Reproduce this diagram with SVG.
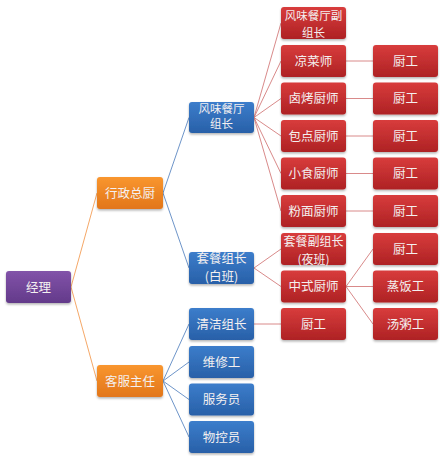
<svg xmlns="http://www.w3.org/2000/svg" width="440" height="456" viewBox="0 0 440 456">
<defs>
<linearGradient id="gO" x1="0" y1="0" x2="0" y2="1"><stop offset="0" stop-color="#F9962F"/><stop offset="1" stop-color="#E2761A"/></linearGradient>
<linearGradient id="gB" x1="0" y1="0" x2="0" y2="1"><stop offset="0" stop-color="#3C7DCB"/><stop offset="1" stop-color="#2860A8"/></linearGradient>
<linearGradient id="gR" x1="0" y1="0" x2="0" y2="1"><stop offset="0" stop-color="#D83C3C"/><stop offset="1" stop-color="#AE2224"/></linearGradient>
<linearGradient id="gP" x1="0" y1="0" x2="0" y2="1"><stop offset="0" stop-color="#8253A9"/><stop offset="1" stop-color="#633A8A"/></linearGradient>
<filter id="sh" x="-10%" y="-10%" width="120%" height="140%"><feDropShadow dx="0" dy="1.5" stdDeviation="1" flood-color="#000" flood-opacity="0.3"/></filter>
</defs>
<style>
rect{filter:url(#sh)}
.o{fill:url(#gO)}.b{fill:url(#gB)}.r{fill:url(#gR)}.p{fill:url(#gP)}
text{font-family:"Noto Sans CJK SC","Noto Sans",sans-serif;font-size:12.5px;fill:#F4F0F0;text-anchor:middle}
text.s{font-size:12px}
text.xs{font-size:11.5px}
.lo{stroke:#F5A868;stroke-width:1;fill:none}
.lb{stroke:#6E95C9;stroke-width:1;fill:none}
.lr{stroke:#D98A8A;stroke-width:1;fill:none}
</style>
<g id="connectors">
<line class="lo" x1="71" y1="287" x2="97" y2="193"/>
<line class="lo" x1="71" y1="287" x2="97" y2="381"/>
<line class="lb" x1="163" y1="193" x2="189" y2="117.5"/>
<line class="lb" x1="163" y1="193" x2="189" y2="268"/>
<line class="lb" x1="163" y1="381" x2="189" y2="324"/>
<line class="lb" x1="163" y1="381" x2="189" y2="362"/>
<line class="lb" x1="163" y1="381" x2="189" y2="399.5"/>
<line class="lb" x1="163" y1="381" x2="189" y2="437"/>
<line class="lr" x1="254" y1="117.5" x2="281" y2="23"/>
<line class="lr" x1="254" y1="117.5" x2="281" y2="61"/>
<line class="lr" x1="254" y1="117.5" x2="281" y2="98.5"/>
<line class="lr" x1="254" y1="117.5" x2="281" y2="136"/>
<line class="lr" x1="254" y1="117.5" x2="281" y2="173.5"/>
<line class="lr" x1="254" y1="117.5" x2="281" y2="211"/>
<line class="lr" x1="254" y1="268" x2="281" y2="249"/>
<line class="lr" x1="254" y1="268" x2="281" y2="286.5"/>
<line class="lr" x1="254" y1="324" x2="281" y2="324"/>
<line class="lr" x1="346" y1="61" x2="373" y2="61"/>
<line class="lr" x1="346" y1="98.5" x2="373" y2="98.5"/>
<line class="lr" x1="346" y1="136" x2="373" y2="136"/>
<line class="lr" x1="346" y1="173.5" x2="373" y2="173.5"/>
<line class="lr" x1="346" y1="211" x2="373" y2="211"/>
<line class="lr" x1="346" y1="286.5" x2="373" y2="249"/>
<line class="lr" x1="346" y1="286.5" x2="373" y2="286.5"/>
<line class="lr" x1="346" y1="286.5" x2="373" y2="324"/>
</g>
<g id="n-jingli"><rect class="p" x="6" y="271" width="65" height="32" rx="3"/><text x="38.5" y="291.5">经理</text></g>
<g id="n-xingzheng"><rect class="o" x="97" y="177" width="66" height="32" rx="3"/><text x="130" y="197.5">行政总厨</text></g>
<g id="n-kefu"><rect class="o" x="97" y="365" width="66" height="32" rx="3"/><text x="130" y="385.5">客服主任</text></g>
<g id="n-fengwei"><rect class="b" x="189" y="102" width="65" height="31" rx="3"/><text class="xs" x="221.5" y="113">风味餐厅</text><text class="xs" x="221.5" y="128">组长</text></g>
<g id="n-taocan"><rect class="b" x="189" y="252" width="65" height="32" rx="3"/><text x="221.5" y="263">套餐组长</text><text x="221.5" y="281">(白班)</text></g>
<g id="n-qingjie"><rect class="b" x="189" y="308" width="65" height="32" rx="3"/><text x="221.5" y="328.5">清洁组长</text></g>
<g id="n-weixiu"><rect class="b" x="189" y="346" width="65" height="32" rx="3"/><text x="221.5" y="366.5">维修工</text></g>
<g id="n-fuwu"><rect class="b" x="189" y="383.5" width="65" height="32" rx="3"/><text x="221.5" y="404">服务员</text></g>
<g id="n-wukong"><rect class="b" x="189" y="421" width="65" height="32" rx="3"/><text x="221.5" y="441.5">物控员</text></g>
<g id="n-fufuzu"><rect class="r" x="281" y="7" width="65" height="32" rx="3"/><text class="xs" x="313.5" y="19.5">风味餐厅副</text><text class="xs" x="313.5" y="36.5">组长</text></g>
<g id="n-liangcai"><rect class="r" x="281" y="45" width="65" height="32" rx="3"/><text x="313.5" y="65.5">凉菜师</text></g>
<g id="n-lukao"><rect class="r" x="281" y="82.5" width="65" height="32" rx="3"/><text x="313.5" y="103">卤烤厨师</text></g>
<g id="n-baodian"><rect class="r" x="281" y="120" width="65" height="32" rx="3"/><text x="313.5" y="140.5">包点厨师</text></g>
<g id="n-xiaoshi"><rect class="r" x="281" y="157.5" width="65" height="32" rx="3"/><text x="313.5" y="178">小食厨师</text></g>
<g id="n-fenmian"><rect class="r" x="281" y="195" width="65" height="32" rx="3"/><text x="313.5" y="215.5">粉面厨师</text></g>
<g id="n-taocanfu"><rect class="r" x="281" y="233" width="65" height="32" rx="3"/><text class="s" x="313.5" y="245.5">套餐副组长</text><text class="s" x="313.5" y="264">(夜班)</text></g>
<g id="n-zhongshi"><rect class="r" x="281" y="270.5" width="65" height="32" rx="3"/><text x="313.5" y="291">中式厨师</text></g>
<g id="n-chugong-q"><rect class="r" x="281" y="308" width="65" height="32" rx="3"/><text x="313.5" y="328.5">厨工</text></g>
<g id="n-chugong1"><rect class="r" x="373" y="45" width="65" height="32" rx="3"/><text x="405.5" y="65.5">厨工</text></g>
<g id="n-chugong2"><rect class="r" x="373" y="82.5" width="65" height="32" rx="3"/><text x="405.5" y="103">厨工</text></g>
<g id="n-chugong3"><rect class="r" x="373" y="120" width="65" height="32" rx="3"/><text x="405.5" y="140.5">厨工</text></g>
<g id="n-chugong4"><rect class="r" x="373" y="157.5" width="65" height="32" rx="3"/><text x="405.5" y="178">厨工</text></g>
<g id="n-chugong5"><rect class="r" x="373" y="195" width="65" height="32" rx="3"/><text x="405.5" y="215.5">厨工</text></g>
<g id="n-chugong6"><rect class="r" x="373" y="233" width="65" height="32" rx="3"/><text x="405.5" y="253.5">厨工</text></g>
<g id="n-zhengfan"><rect class="r" x="373" y="270.5" width="65" height="32" rx="3"/><text x="405.5" y="291">蒸饭工</text></g>
<g id="n-tangzhou"><rect class="r" x="373" y="308" width="65" height="32" rx="3"/><text x="405.5" y="328.5">汤粥工</text></g>
</svg>
